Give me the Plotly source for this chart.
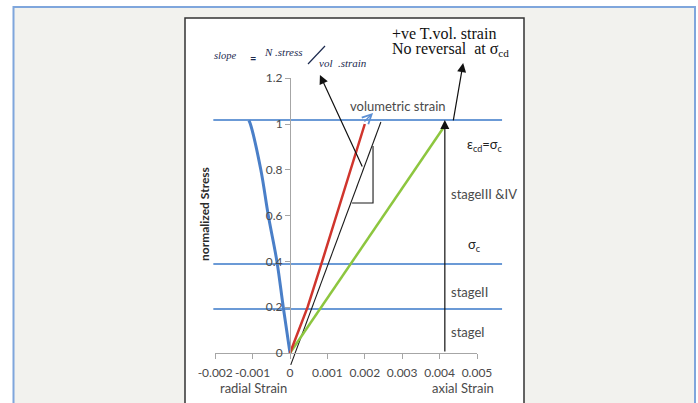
import plotly.graph_objects as go

# ---- data -------------------------------------------------------------
stress_pts = [0, 0.2, 0.4, 0.6, 0.8, 1.0]
radial_stress = [0, 0.2, 0.4, 0.6, 0.8, 1.0, 1.015]
radial_strain = [0, -0.00018, -0.00035, -0.00058, -0.00078, -0.00106, -0.0011]
vol_strain = [0, 0.00047, 0.00086, 0.00124, 0.00162, 0.002]
axial_strain = [0, 0.00083, 0.00167, 0.0025, 0.00333, 0.00417]

# tangent used to read the slope, and its slope triangle
tangent_strain = [0.00002, 0.00243]
tangent_stress = [-0.052, 1.009]
triangle_strain = [0.00166, 0.00222, 0.00222]
triangle_stress = [0.655, 0.655, 0.904]

# stage boundaries (normalized stress)
stage_levels = [0.192, 0.389, 1.017]
stage_span = [-0.00205, 0.00567]

# arrows: (tail strain, tail stress, head strain, head stress)
peak_arrow = [0.00414, 0.0, 0.00414, 1.017]
reversal_arrow = [0.00436, 1.009, 0.00463, 1.266]
slope_arrow = [0.00195, 0.808, 0.0008, 1.214]
vol_arrow = [0.00195, 1.004, 0.00222, 1.048]

x_ticks = [-0.002, -0.001, 0, 0.001, 0.002, 0.003, 0.004, 0.005]
x_ticktext = ["-0.002", "-0.001", "0", "0.001", "0.002", "0.003", "0.004", "0.005"]
y_ticks = [0, 0.2, 0.4, 0.6, 0.8, 1.0, 1.2]
y_ticktext = ["0", "0.2", "0.4", "0.6", "0.8", "1", "1.2"]

# ---- page geometry ------------------------------------------------------
W, H = 698, 403
X0PX, Y0PX = 290, 353          # pixel position of strain 0 / stress 0
PX_PER_X = 37400.0             # pixels per unit strain
PX_PER_Y = 229.0               # pixels per unit normalized stress
XR = [-0.002, 0.005]
YR = [0.0, 1.2]


def px(x):
    return x / W


def py(y):
    return 1 - y / H


main_xr = [(0 - X0PX) / PX_PER_X, (W - X0PX) / PX_PER_X]
main_yr = [(Y0PX - H) / PX_PER_Y, Y0PX / PX_PER_Y]
ax_xdom = [px(X0PX + XR[0] * PX_PER_X), px(X0PX + XR[1] * PX_PER_X)]
ax_ydom = [py(Y0PX - YR[0] * PX_PER_Y), py(Y0PX - YR[1] * PX_PER_Y)]

BLUE = "#4a7fc8"
STAGE_BLUE = "#6b9ad6"
RED = "#d0352d"
GREEN = "#8dc63f"
GREY_TXT = "#4a4a4a"
SANS = "Lato"
SERIF = "Liberation Serif"

fig = go.Figure()

# stage boundary lines
for lvl in stage_levels:
    fig.add_trace(go.Scatter(x=stage_span, y=[lvl, lvl], mode="lines",
                             line=dict(color=STAGE_BLUE, width=2),
                             hoverinfo="skip", showlegend=False))

# tangent and slope triangle
fig.add_trace(go.Scatter(x=tangent_strain, y=tangent_stress, mode="lines",
                         line=dict(color="#1a1a1a", width=1.1),
                         hoverinfo="skip", showlegend=False))
fig.add_trace(go.Scatter(x=triangle_strain, y=triangle_stress, mode="lines",
                         line=dict(color="#1a1a1a", width=1.1),
                         hoverinfo="skip", showlegend=False))

# strain curves
fig.add_trace(go.Scatter(x=radial_strain, y=radial_stress, mode="lines",
                         line=dict(color=BLUE, width=3, shape="spline"),
                         name="radial", showlegend=False))
fig.add_trace(go.Scatter(x=axial_strain, y=stress_pts, mode="lines",
                         line=dict(color=GREEN, width=2.5),
                         name="axial", showlegend=False))
fig.add_trace(go.Scatter(x=vol_strain, y=stress_pts, mode="lines",
                         line=dict(color=RED, width=2.5),
                         name="volumetric", showlegend=False))

# placeholder so the visible axis pair is rendered
fig.add_trace(go.Scatter(x=[None], y=[None], xaxis="x2", yaxis="y2",
                         hoverinfo="skip", showlegend=False))

annotations = []


def arrow(a, color, head, width=1.2, size=1.5):
    annotations.append(dict(x=a[2], y=a[3], ax=a[0], ay=a[1],
                            xref="x", yref="y", axref="x", ayref="y",
                            text="", showarrow=True, arrowhead=head,
                            arrowsize=size, arrowwidth=width,
                            arrowcolor=color, standoff=0, startstandoff=0))


arrow(peak_arrow, "#111111", 2)
arrow(reversal_arrow, "#111111", 2)
arrow(slope_arrow, "#111111", 2)
arrow(vol_arrow, "#5b8fd4", 5, width=1.4, size=1.3)


def label(text, x, y, size=12.5, color=GREY_TXT, family=SANS,
          xanchor="left", angle=0):
    annotations.append(dict(text=text, x=px(x), y=py(y), xref="paper",
                            yref="paper", showarrow=False, xanchor=xanchor,
                            yanchor="middle", textangle=angle,
                            font=dict(size=size, color=color, family=family)))


# slope formula
label("<i>slope</i>", 212, 55, size=10.5, color="#1c2a4f", family=SERIF)
label("<b>=</b>", 248, 57, size=11, color="#1c2a4f", family=SANS)
label("<i>N .stress</i>", 262, 52, size=11, color="#1c2a4f", family=SERIF)
label("<i>vol  .strain</i>", 317, 63, size=11, color="#1c2a4f", family=SERIF)

# notes
label("+ve T.vol. strain", 390, 33, size=16, color="#111111", family=SERIF)
label("No reversal  at σ<sub>cd</sub>", 390, 49, size=16, color="#111111",
      family=SERIF)
label("volumetric strain", 348, 106, size=13)
label("ε<sub>cd</sub>=σ<sub>c</sub>", 465, 145, size=13, color="#222222")
label("stageIII &IV", 449, 194, size=13)
label("σ<sub>c</sub>", 466, 245, size=13, color="#222222")
label("stageII", 449, 292, size=13)
label("stageI", 449, 332, size=13)

# axis titles
label("radial Strain", 253, 388, size=13, xanchor="center")
label("axial Strain", 463, 388, size=13, xanchor="center")
label("<b>normalized Stress</b>", 204, 214, size=12, color="#2a2a2a",
      xanchor="center", angle=-90)

shapes = [
    # page panel with blue border
    dict(type="rect", xref="paper", yref="paper", layer="below",
         x0=px(13.5), x1=px(695), y0=-0.05, y1=py(7),
         fillcolor="#f2f2ee", line=dict(color="#7fa6dc", width=2)),
    # white chart frame
    dict(type="rect", xref="paper", yref="paper", layer="below",
         x0=px(185), x1=px(524), y0=-0.05, y1=py(18),
         fillcolor="#ffffff", line=dict(color="#333333", width=1.5)),
    # fraction slash in the slope formula
    dict(type="line", xref="paper", yref="paper",
         x0=px(308), y0=py(64), x1=px(325), y1=py(46),
         line=dict(color="#1c2a4f", width=1.2)),
]

axis_common = dict(showgrid=False, zeroline=False, showline=True,
                   linecolor="#a6a6a6", linewidth=1, ticks="outside",
                   ticklen=5, tickcolor="#a6a6a6", tickwidth=1,
                   tickangle=0, automargin=False,
                   tickfont=dict(family=SANS, size=12, color="#4a4a4a"),
                   fixedrange=True)

fig.update_layout(
    width=W, height=H,
    margin=dict(l=0, r=0, t=0, b=0, pad=0, autoexpand=False),
    paper_bgcolor="#ffffff",
    plot_bgcolor="rgba(0,0,0,0)",
    showlegend=False,
    xaxis=dict(domain=[0, 1], range=main_xr, visible=False, fixedrange=True),
    yaxis=dict(domain=[0, 1], range=main_yr, visible=False, fixedrange=True),
    xaxis2=dict(domain=ax_xdom, range=XR, anchor="y2",
                tickvals=x_ticks, ticktext=x_ticktext,
                ticklabelstandoff=4, **axis_common),
    yaxis2=dict(domain=ax_ydom, range=YR, anchor="free", position=px(X0PX),
                tickvals=y_ticks, ticktext=y_ticktext, **axis_common),
    annotations=annotations,
    shapes=shapes,
)

fig.write_html("out.html")
